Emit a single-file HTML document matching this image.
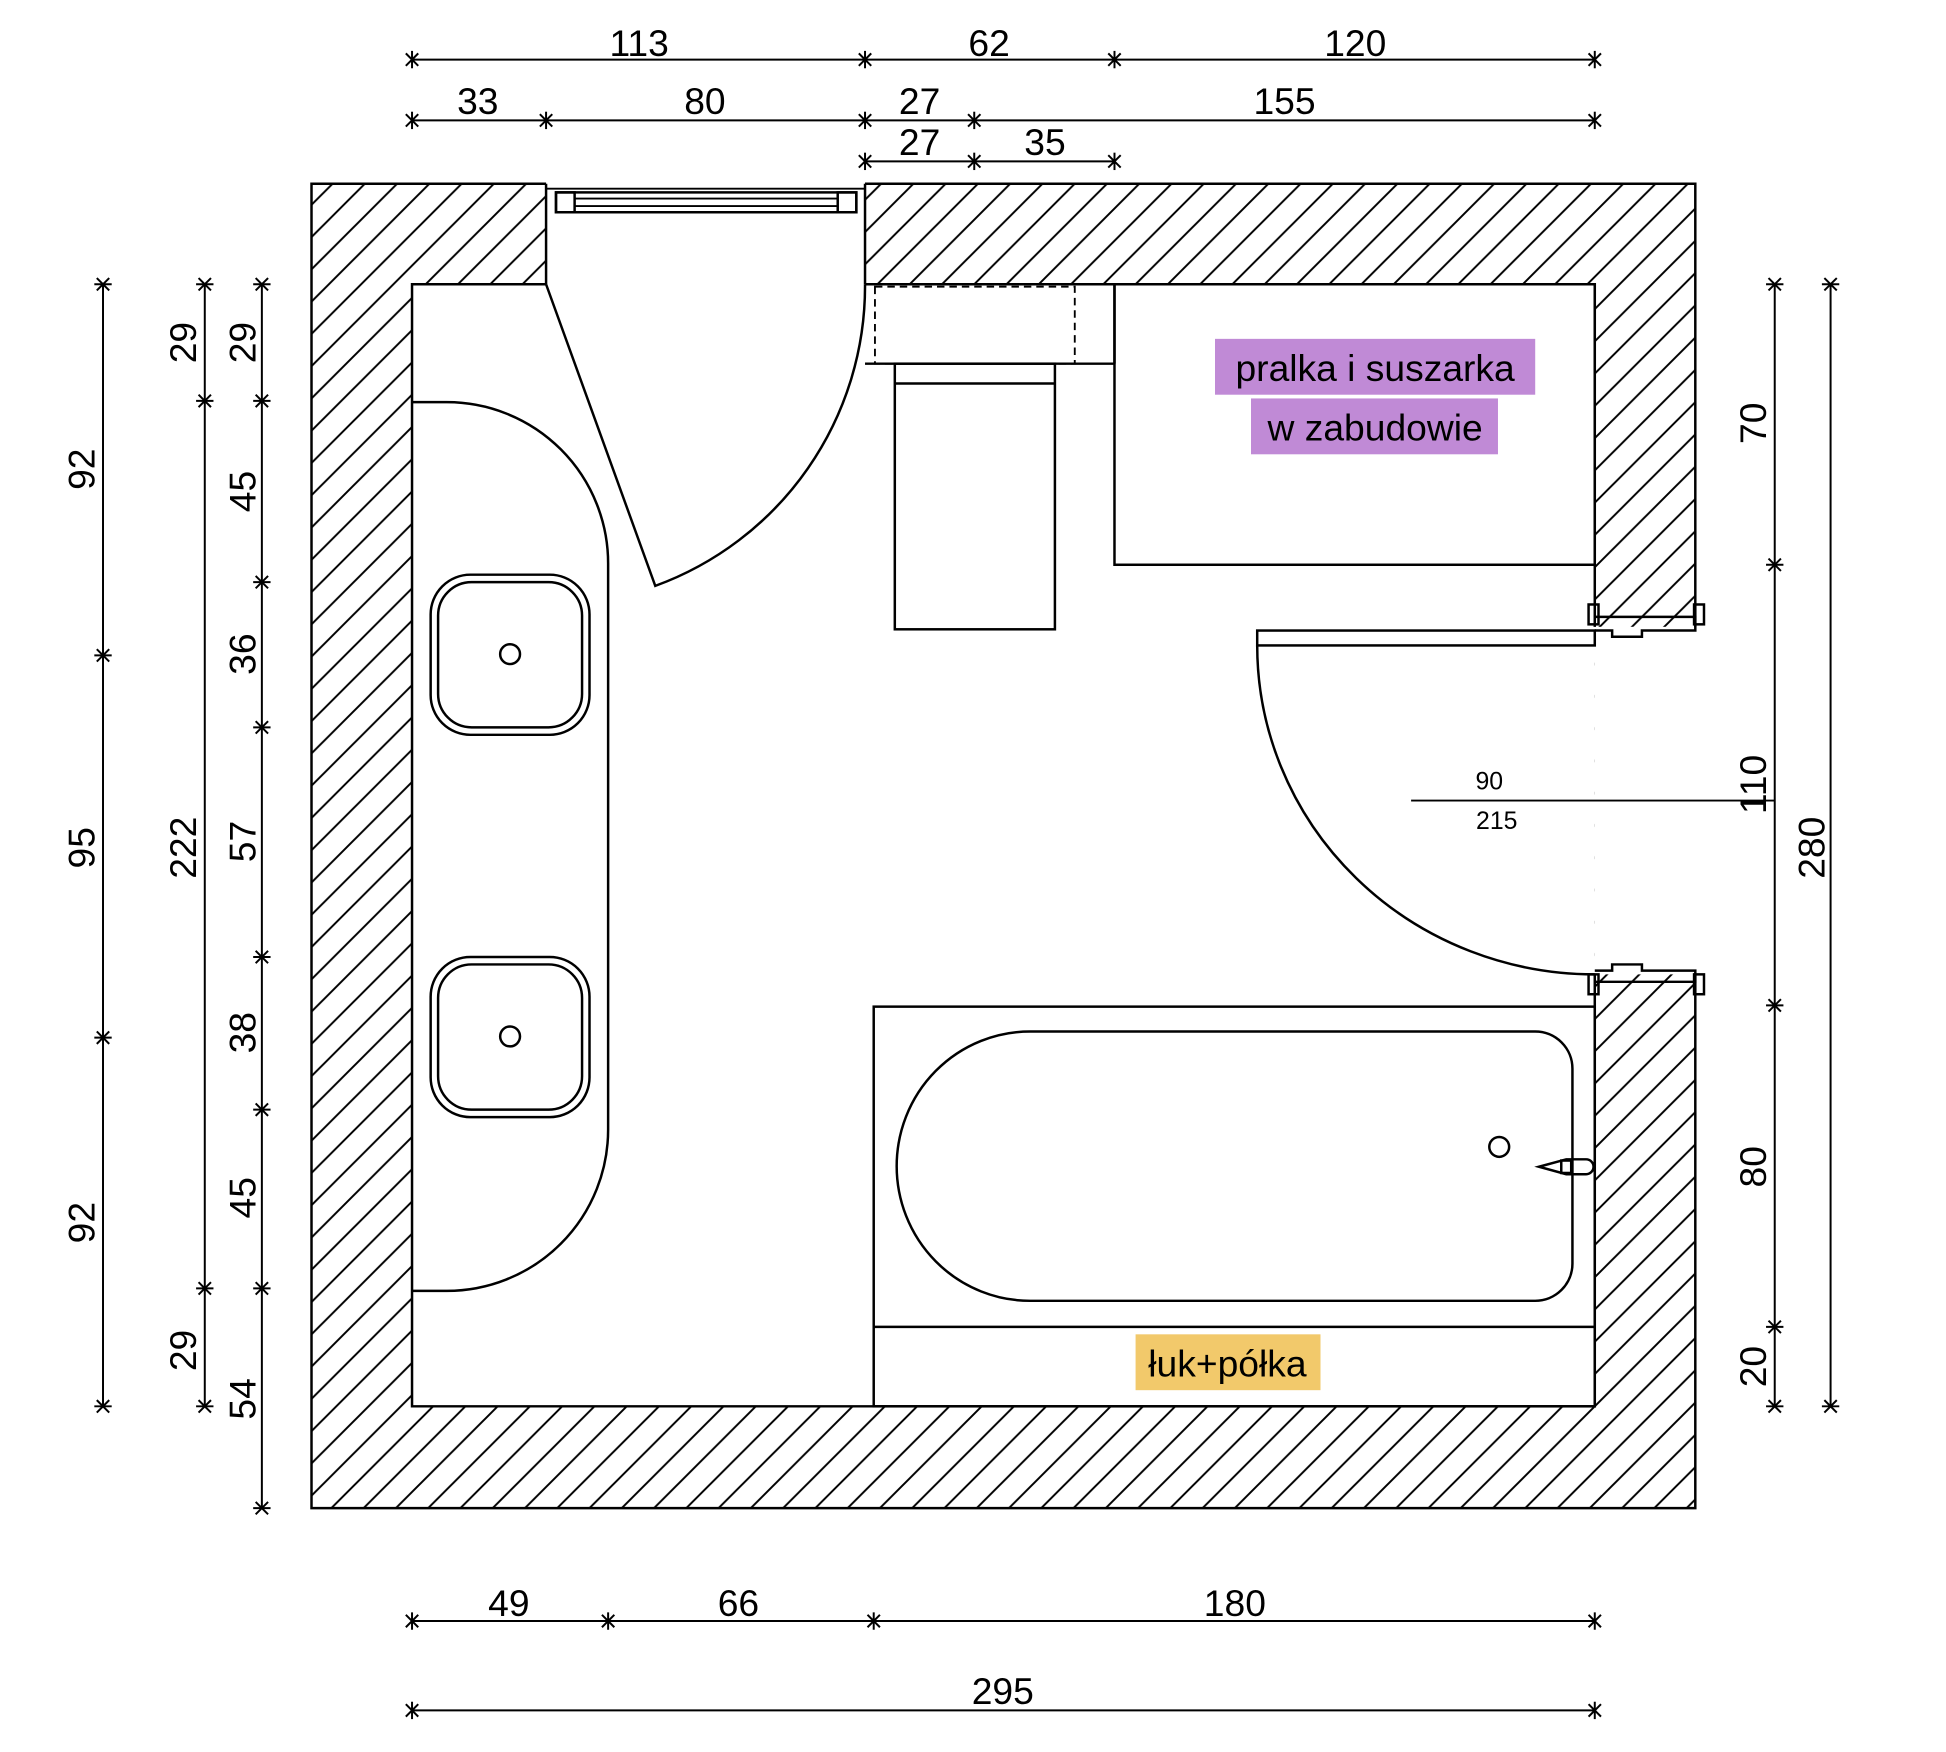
<!DOCTYPE html>
<html><head><meta charset="utf-8"><style>
html,body{margin:0;padding:0;background:#fff}
svg{display:block}
text{font-family:"Liberation Sans",sans-serif;font-size:30px;fill:#000}
</style></head><body>
<svg width="1946" height="1752" viewBox="0 0 1568 1411.5" preserveAspectRatio="none" xmlns="http://www.w3.org/2000/svg">
<defs>
<pattern id="h" patternUnits="userSpaceOnUse" width="26" height="26">
<path d="M-2,28 L28,-2 M-8,8 L8,-8 M18,34 L34,18" stroke="#000" stroke-width="1.6"/>
</pattern>
<g id="th"><line x1="0" y1="-7" x2="0" y2="7"/><line x1="-5" y1="-5" x2="5" y2="5"/><line x1="-5" y1="5" x2="5" y2="-5"/></g>
<g id="tv"><line x1="-7" y1="0" x2="7" y2="0"/><line x1="-5" y1="-5" x2="5" y2="5"/><line x1="-5" y1="5" x2="5" y2="-5"/></g>
</defs>
<g stroke="#000" stroke-width="2" fill="none">
<!-- walls -->
<rect x="251" y="148" width="1115" height="1067" fill="url(#h)" stroke="none"/>
<rect x="332" y="229" width="953" height="904" fill="#fff" stroke="none"/>
<rect x="440" y="146" width="257" height="85" fill="#fff" stroke="none"/>
<rect x="1285" y="505" width="83" height="280" fill="#fff" stroke="none"/>
<path d="M440,148 H251 V1215 H1366 V785"/>
<path d="M697,148 H1366 V505"/>
<path d="M440,229 H332 V1133 H1285 V785 M1285,505 V229 H697 M440,148 V229 M697,148 V229"/>
<!-- window -->
<path d="M440,152 H697" stroke-width="1.5"/>
<rect x="448" y="155" width="242" height="16"/>
<rect x="448" y="155" width="15" height="16"/>
<rect x="675" y="155" width="15" height="16"/>
<path d="M463,160 H675 M463,166 H675" stroke-width="1.5"/>
<!-- right door jambs -->
<rect x="1280" y="487" width="8" height="16"/><rect x="1365" y="487" width="8" height="16"/>
<path d="M1285,497 H1366 V508 H1323 V513 H1299 V508 H1285"/>
<rect x="1280" y="785" width="8" height="16"/><rect x="1365" y="785" width="8" height="16"/>
<path d="M1285,791 H1366 V782 H1323 V777 H1299 V782 H1285"/>
<rect x="1013" y="508" width="272" height="12"/>
<path d="M1013,520 A272 265 0 0 0 1285,785"/>
<!-- left door -->
<path d="M440,229 L528,472 A257 257 0 0 0 697,229"/>
<!-- vanity -->
<path d="M332,324 H360 A130 130 0 0 1 490 454 V910 A130 130 0 0 1 360 1040 H332"/>
<rect x="347" y="463" width="128" height="129" rx="32"/><rect x="353" y="469" width="116" height="117" rx="27"/>
<circle cx="411" cy="527" r="8"/>
<rect x="347" y="771" width="128" height="129" rx="32"/><rect x="353" y="777" width="116" height="117" rx="27"/>
<circle cx="411" cy="835" r="8"/>
<!-- toilet -->
<path d="M697,293 H898"/><path d="M898,229 V293"/>
<rect x="705" y="231" width="161" height="62" stroke-dasharray="6,4" stroke-width="1.5"/>
<rect x="721" y="293" width="129" height="214"/><path d="M721,309 H850"/>
<!-- washer -->
<rect x="898" y="229" width="387" height="226"/>
<!-- bath -->
<rect x="704" y="811" width="581" height="322"/><path d="M704,1069 H1285"/>
<path d="M830,831 H1237 A30 30 0 0 1 1267 861 V1018 A30 30 0 0 1 1237 1048 H830 A107 108 0 0 1 830 831 Z"/>
<circle cx="1208" cy="924" r="8"/>
<path d="M1240,940 L1262,934 H1278 A6 6 0 0 1 1278 946 H1262 Z"/><rect x="1258" y="935" width="8" height="10"/>
<!-- 90/215 -->
<path d="M1137,645 H1430" stroke-width="1.5"/>
</g>
<rect x="979" y="273" width="258" height="45" fill="#c08ad6"/>
<rect x="1008" y="321" width="199" height="45" fill="#c08ad6"/>
<rect x="915" y="1075" width="149" height="45" fill="#f2c96b"/>
<text x="1108" y="307" text-anchor="middle">pralka i suszarka</text>
<text x="1108" y="355" text-anchor="middle">w zabudowie</text>
<text x="989" y="1109" text-anchor="middle">łuk+półka</text>
<text x="1200" y="636" text-anchor="middle" style="font-size:20px">90</text>
<text x="1206" y="668" text-anchor="middle" style="font-size:20px">215</text>
<!-- dimension lines -->
<g stroke="#000" stroke-width="1.6" fill="none">
<path d="M332,48 H1285 M332,97 H1285 M697,130 H898 M332,1306 H1285 M332,1378 H1285"/>
<path d="M83,229 V1133 M165,229 V1133 M211,229 V1215 M1430,229 V1133 M1475,229 V1133"/>
<g>
<use href="#th" x="332" y="48"/><use href="#th" x="697" y="48"/><use href="#th" x="898" y="48"/><use href="#th" x="1285" y="48"/>
<use href="#th" x="332" y="97"/><use href="#th" x="440" y="97"/><use href="#th" x="697" y="97"/><use href="#th" x="785" y="97"/><use href="#th" x="1285" y="97"/>
<use href="#th" x="697" y="130"/><use href="#th" x="785" y="130"/><use href="#th" x="898" y="130"/>
<use href="#th" x="332" y="1306"/><use href="#th" x="490" y="1306"/><use href="#th" x="704" y="1306"/><use href="#th" x="1285" y="1306"/>
<use href="#th" x="332" y="1378"/><use href="#th" x="1285" y="1378"/>
<use href="#tv" x="83" y="229"/><use href="#tv" x="83" y="528"/><use href="#tv" x="83" y="836"/><use href="#tv" x="83" y="1133"/>
<use href="#tv" x="165" y="229"/><use href="#tv" x="165" y="323"/><use href="#tv" x="165" y="1038"/><use href="#tv" x="165" y="1133"/>
<use href="#tv" x="211" y="229"/><use href="#tv" x="211" y="323"/><use href="#tv" x="211" y="469"/><use href="#tv" x="211" y="586"/><use href="#tv" x="211" y="771"/><use href="#tv" x="211" y="894"/><use href="#tv" x="211" y="1038"/><use href="#tv" x="211" y="1215"/>
<use href="#tv" x="1430" y="229"/><use href="#tv" x="1430" y="455"/><use href="#tv" x="1430" y="810"/><use href="#tv" x="1430" y="1069"/><use href="#tv" x="1430" y="1133"/>
<use href="#tv" x="1475" y="229"/><use href="#tv" x="1475" y="1133"/>
</g>
</g>
<g text-anchor="middle">
<text x="515" y="45">113</text><text x="797" y="45">62</text><text x="1092" y="45">120</text>
<text x="385" y="92">33</text><text x="568" y="92">80</text><text x="741" y="92">27</text><text x="1035" y="92">155</text>
<text x="741" y="125">27</text><text x="842" y="125">35</text>
<text x="410" y="1302">49</text><text x="595" y="1302">66</text><text x="995" y="1302">180</text>
<text x="808" y="1373">295</text>
<text transform="translate(76,378) rotate(-90)">92</text>
<text transform="translate(76,683) rotate(-90)">95</text>
<text transform="translate(76,985) rotate(-90)">92</text>
<text transform="translate(158,276) rotate(-90)">29</text>
<text transform="translate(158,683) rotate(-90)">222</text>
<text transform="translate(158,1088) rotate(-90)">29</text>
<text transform="translate(206,276) rotate(-90)">29</text>
<text transform="translate(206,396) rotate(-90)">45</text>
<text transform="translate(206,527) rotate(-90)">36</text>
<text transform="translate(206,678) rotate(-90)">57</text>
<text transform="translate(206,832) rotate(-90)">38</text>
<text transform="translate(206,965) rotate(-90)">45</text>
<text transform="translate(206,1127) rotate(-90)">54</text>
<text transform="translate(1423,341) rotate(-90)">70</text>
<text transform="translate(1423,632) rotate(-90)">110</text>
<text transform="translate(1423,940) rotate(-90)">80</text>
<text transform="translate(1423,1101) rotate(-90)">20</text>
<text transform="translate(1470,683) rotate(-90)">280</text>
</g>
</svg>
</body></html>
